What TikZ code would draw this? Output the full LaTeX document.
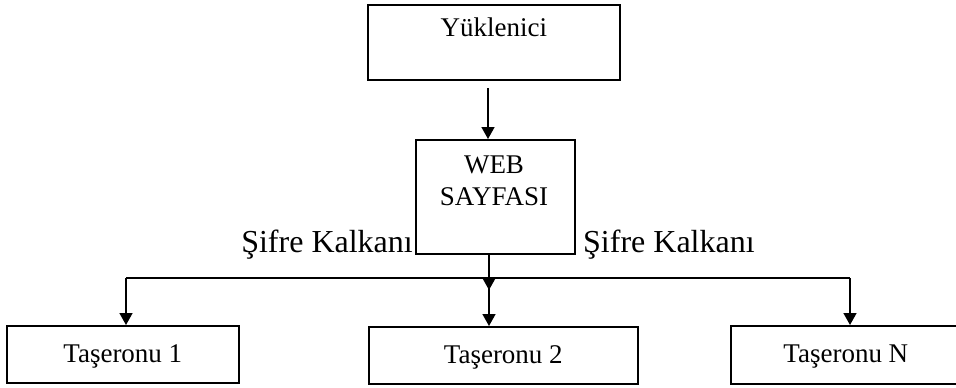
\documentclass[tikz,border=0pt]{standalone}
\usepackage{fontspec}
\setmainfont{Liberation Serif}
\usetikzlibrary{arrows.meta}
\tikzset{
  boxnode/.style={draw, line width=1.6pt, inner sep=0pt, anchor=north west,
    font=\fontsize{27}{32}\selectfont},
  conn/.style={line width=1.6pt},
  arr/.style={conn, -{Triangle[length=12pt,width=13pt]}},
  lbl/.style={inner sep=0pt, font=\fontsize{32}{38}\selectfont},
}
\begin{document}
\begin{tikzpicture}[x=1pt,y=-1pt]
\useasboundingbox (0,0) rectangle (956,388);
% boxes
\node[boxnode, minimum width=252pt, text height=32pt, text depth=43pt] (yuk) at (367,4) {Yüklenici};
\node[boxnode, minimum width=159pt, minimum height=114pt] (web) at (415,139) {};
\node[inner sep=0pt, anchor=base, align=center, font=\fontsize{27}{32}\selectfont] (webtext) at (494,205) {WEB\\SAYFASI};
\node[boxnode, minimum width=232pt, text height=37pt, text depth=20pt] (t1) at (6,325) {Taşeronu 1};
\node[boxnode, minimum width=269pt, text height=37pt, text depth=20pt] (t2) at (368,326) {Taşeronu 2};
\node[boxnode, minimum width=230pt, text height=37pt, text depth=21pt] (tn) at (730,325) {Taşeronu N};
% labels
\node[lbl, anchor=base east] (sk1) at (413,252) {Şifre Kalkanı};
\node[lbl, anchor=base west] (sk2) at (583,252) {Şifre Kalkanı};
% connectors
\coordinate (a) at (488,88);
\coordinate (j) at (489,278);
\coordinate (jt) at (489,290);
\coordinate (l) at (126,278);
\coordinate (r) at (850,278);
\draw[arr] (a) -- (a |- web.north);
\draw[arr] (web.south -| j) -- (jt);
\draw[conn] (l) -- (r);
\draw[arr] (l) -- (l |- t1.north);
\draw[arr] (j) -- (j |- t2.north);
\draw[arr] (r) -- (r |- tn.north);
\end{tikzpicture}
\end{document}
